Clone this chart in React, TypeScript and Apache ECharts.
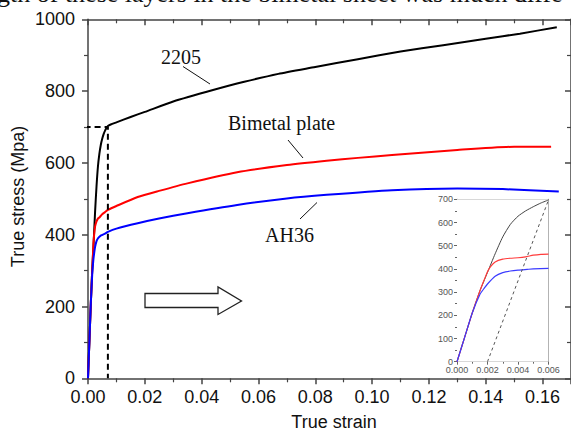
import React, { useEffect, useRef } from "react";
import * as echarts from "echarts";

// ---- Main chart data (true strain, true stress MPa) ----
const curve2205: [number, number][] = [
  [0, 0], [0.0005, 105], [0.001, 210], [0.0015, 305], [0.002, 380], [0.0025, 465],
  [0.003, 535], [0.0035, 590], [0.004, 625], [0.0045, 650], [0.005, 667], [0.0055, 680],
  [0.006, 690], [0.0065, 697], [0.007, 703], [0.008, 707], [0.01, 713], [0.015, 728],
  [0.02, 742], [0.03, 771], [0.044, 803], [0.055, 826], [0.067, 848], [0.08, 867],
  [0.095, 889], [0.11, 910], [0.125, 928], [0.14, 946], [0.152, 960], [0.165, 978],
];
const curveBimetal: [number, number][] = [
  [0, 0], [0.0005, 105], [0.001, 210], [0.0015, 305], [0.0018, 355], [0.002, 385],
  [0.0025, 423], [0.003, 437], [0.0035, 445], [0.004, 448], [0.005, 457], [0.006, 463],
  [0.007, 469], [0.01, 480], [0.0175, 505], [0.025, 522], [0.035, 543], [0.0525, 574],
  [0.07, 594], [0.084, 606], [0.095, 614], [0.107, 622], [0.13, 636], [0.15, 645],
  [0.163, 645],
];
const curveAH36: [number, number][] = [
  [0, 0], [0.0005, 105], [0.001, 210], [0.0015, 292], [0.0018, 322], [0.002, 338],
  [0.0025, 366], [0.003, 382], [0.0035, 390], [0.0046, 398], [0.006, 403], [0.007, 408],
  [0.01, 417], [0.0175, 432], [0.025, 445], [0.035, 460], [0.0525, 483], [0.07, 501],
  [0.084, 511], [0.107, 524], [0.13, 529], [0.146, 527], [0.1657, 520],
];
const yieldGuide: [number, number][] = [[-0.0012, 700], [0.007, 700], [0.007, 0]];

// ---- Inset data ----
const inset2205: [number, number][] = [
  [0, 0], [0.0005, 105], [0.001, 210], [0.0015, 305], [0.002, 385], [0.0025, 465],
  [0.003, 538], [0.0035, 592], [0.004, 627], [0.0045, 650], [0.005, 668], [0.0055, 684],
  [0.006, 697],
];
const insetBimetal: [number, number][] = [
  [0, 0], [0.0005, 105], [0.001, 210], [0.0015, 305], [0.0018, 355], [0.002, 388],
  [0.0022, 410], [0.0025, 430], [0.003, 442], [0.0035, 446], [0.004, 448], [0.0045, 452],
  [0.005, 459], [0.0055, 463], [0.006, 464],
];
const insetAH36: [number, number][] = [
  [0, 0], [0.0005, 105], [0.001, 210], [0.0015, 290], [0.0018, 318], [0.002, 335],
  [0.0025, 368], [0.003, 384], [0.0035, 391], [0.004, 395], [0.0046, 398], [0.005, 400],
  [0.006, 402],
];
const insetOffset: [number, number][] = [[0.002, 0], [0.006, 697]];

const xTitle = "True strain";
const yTitle = "True stress (Mpa)";
const headerText = "gth of these layers in the bimetal sheet was much diffe";

const SANS = "'Liberation Sans', Arial, sans-serif";
const SERIF = "'Liberation Serif', 'Times New Roman', serif";

export default function App() {
  const ref = useRef<HTMLDivElement>(null);
  useEffect(() => {
    if (!ref.current) return;
    const chart = echarts.init(ref.current, null, { renderer: "svg" });
    const axisCol = "#444";
    const insetCol = "#666";
    const mainX = { min: 0, max: 0.17, interval: 0.02 };
    const mainY = { min: 0, max: 1000, interval: 200 };
    const insX = { min: 0, max: 0.006, interval: 0.002 };
    const insY = { min: 0, max: 700, interval: 100 };

    const lineSeries = (data: [number, number][], color: string, width: number, xi: number, yi: number, z = 2) => ({
      type: "line",
      data,
      xAxisIndex: xi,
      yAxisIndex: yi,
      showSymbol: false,
      symbol: "none",
      smooth: 0.2,
      lineStyle: { color, width, join: "round" },
      z,
    });

    chart.setOption({
      animation: false,
      backgroundColor: "#fff",
      grid: [
        { left: 88, top: 19.3, width: 485.4, height: 359 },
        { left: 457, top: 199.3, width: 91.5, height: 162.4, show: true, backgroundColor: "#fff", borderWidth: 0, z: 5 },
      ],
      xAxis: [
        {
          type: "value", gridIndex: 0, position: "bottom", ...mainX,
          axisLine: { onZero: false, lineStyle: { color: axisCol, width: 1.5 } },
          axisTick: { show: true, inside: false, length: 6, lineStyle: { color: axisCol, width: 1.5 } },
          minorTick: { show: true, splitNumber: 2, length: 4, lineStyle: { color: axisCol, width: 1.2 } },
          axisLabel: { formatter: (v: number) => v.toFixed(2), fontSize: 18, fontFamily: SANS, color: "#111", margin: 10, showMaxLabel: false },
          splitLine: { show: false },
        },
        {
          type: "value", gridIndex: 0, position: "top", ...mainX,
          axisLine: { onZero: false, lineStyle: { color: axisCol, width: 1.5 } },
          axisTick: { show: true, inside: true, length: 6, lineStyle: { color: axisCol, width: 1.5 } },
          minorTick: { show: true, splitNumber: 2, length: 4, lineStyle: { color: axisCol, width: 1.2 } },
          axisLabel: { show: false },
          splitLine: { show: false },
        },
        {
          type: "value", gridIndex: 1, position: "bottom", ...insX,
          axisLine: { onZero: false, lineStyle: { color: insetCol, width: 1 } },
          axisTick: { show: true, inside: false, length: 3, lineStyle: { color: insetCol } },
          minorTick: { show: true, splitNumber: 2, length: 2, lineStyle: { color: insetCol } },
          axisLabel: { formatter: (v: number) => v.toFixed(3), fontSize: 9, fontFamily: SANS, color: "#555", margin: 4 },
          splitLine: { show: false },
        },
        {
          type: "value", gridIndex: 1, position: "top", ...insX,
          axisLine: { onZero: false, lineStyle: { color: insetCol, width: 1 } },
          axisTick: { show: true, inside: true, length: 3, lineStyle: { color: insetCol } },
          minorTick: { show: true, splitNumber: 2, length: 2, lineStyle: { color: insetCol } },
          axisLabel: { show: false },
          splitLine: { show: false },
        },
      ],
      yAxis: [
        {
          type: "value", gridIndex: 0, position: "left", ...mainY,
          axisLine: { show: true, onZero: false, lineStyle: { color: axisCol, width: 1.5 } },
          axisTick: { show: true, inside: false, length: 6, lineStyle: { color: axisCol, width: 1.5 } },
          minorTick: { show: true, splitNumber: 2, length: 4, lineStyle: { color: axisCol, width: 1.2 } },
          axisLabel: { formatter: (v: number) => String(v), fontSize: 18, fontFamily: SANS, color: "#111", margin: 13 },
          splitLine: { show: false },
        },
        {
          type: "value", gridIndex: 0, position: "right", ...mainY,
          axisLine: { show: true, onZero: false, lineStyle: { color: axisCol, width: 1.5 } },
          axisTick: { show: true, inside: true, length: 6, lineStyle: { color: axisCol, width: 1.5 } },
          minorTick: { show: true, splitNumber: 2, length: 4, lineStyle: { color: axisCol, width: 1.2 } },
          axisLabel: { show: false },
          splitLine: { show: false },
        },
        {
          type: "value", gridIndex: 1, position: "left", ...insY,
          axisLine: { show: true, onZero: false, lineStyle: { color: insetCol, width: 1 } },
          axisTick: { show: true, inside: false, length: 3, lineStyle: { color: insetCol } },
          minorTick: { show: true, splitNumber: 2, length: 2, lineStyle: { color: insetCol } },
          axisLabel: { formatter: (v: number) => String(v), fontSize: 9, fontFamily: SANS, color: "#555", margin: 4 },
          splitLine: { show: false },
        },
        {
          type: "value", gridIndex: 1, position: "right", ...insY,
          axisLine: { show: true, onZero: false, lineStyle: { color: insetCol, width: 1 } },
          axisTick: { show: true, inside: true, length: 3, lineStyle: { color: insetCol } },
          minorTick: { show: true, splitNumber: 2, length: 2, lineStyle: { color: insetCol } },
          axisLabel: { show: false },
          splitLine: { show: false },
        },
      ],
      series: [
        { ...lineSeries(curve2205, "#000", 2, 0, 0) },
        { ...lineSeries(curveBimetal, "#ff0000", 2, 0, 0) },
        { ...lineSeries(curveAH36, "#0000ff", 2, 0, 0) },
        {
          type: "line", data: yieldGuide, xAxisIndex: 0, yAxisIndex: 0, showSymbol: false, symbol: "none",
          clip: false, lineStyle: { color: "#000", width: 2, type: [6, 4] }, z: 3,
        },
        { ...lineSeries(inset2205, "#444", 1, 2, 2, 6) },
        { ...lineSeries(insetBimetal, "#ff3b3b", 1.2, 2, 2, 6) },
        { ...lineSeries(insetAH36, "#3b3bff", 1.2, 2, 2, 6) },
        {
          type: "line", data: insetOffset, xAxisIndex: 2, yAxisIndex: 2, showSymbol: false, symbol: "none",
          lineStyle: { color: "#555", width: 1, type: [3, 3] }, z: 6,
        },
      ],
      graphic: [
        { type: "text", left: -3, top: -20, style: { text: headerText, font: `26px ${SERIF}`, fill: "#111" } },
        { type: "text", x: 17.5, y: 196.5, rotation: Math.PI / 2, style: { text: yTitle, font: `18px ${SANS}`, fill: "#111", align: "center", verticalAlign: "middle" } },
        { type: "text", x: 334, y: 422, style: { text: xTitle, font: `18px ${SANS}`, fill: "#111", align: "center", verticalAlign: "middle" } },
        { type: "text", x: 161, y: 57, style: { text: "2205", font: `20px ${SERIF}`, fill: "#111", align: "left", verticalAlign: "middle" } },
        { type: "text", x: 228, y: 123, style: { text: "Bimetal plate", font: `20px ${SERIF}`, fill: "#111", align: "left", verticalAlign: "middle" } },
        { type: "text", x: 265, y: 234.5, style: { text: "AH36", font: `20px ${SERIF}`, fill: "#111", align: "left", verticalAlign: "middle" } },
        { type: "line", shape: { x1: 183, y1: 66.5, x2: 210, y2: 84 }, style: { stroke: "#111", lineWidth: 1 } },
        { type: "line", shape: { x1: 288, y1: 140, x2: 303, y2: 158 }, style: { stroke: "#111", lineWidth: 1 } },
        { type: "line", shape: { x1: 300, y1: 219, x2: 317, y2: 202.5 }, style: { stroke: "#111", lineWidth: 1 } },
        {
          type: "polygon",
          shape: { points: [[145, 293.5], [218, 293.5], [218, 287], [241.5, 301], [218, 314.5], [218, 307.5], [145, 307.5]] },
          style: { fill: "#fff", stroke: "#222", lineWidth: 1.3 },
        },
      ],
    });
    return () => chart.dispose();
  }, []);
  return <div ref={ref} style={{ width: 571, height: 434, position: "fixed", left: 0, top: 0 }} />;
}
